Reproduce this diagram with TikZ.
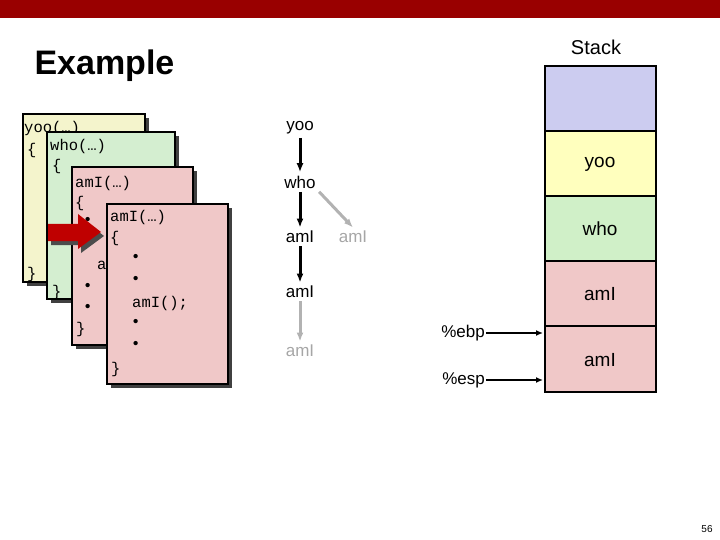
\documentclass[tikz,border=0pt]{standalone}
\usepackage{fontspec}
\setmainfont{Liberation Sans}
\newfontfamily\cmono{Liberation Mono}
\usetikzlibrary{arrows.meta}
\definecolor{bar}{RGB}{153,0,0}
\definecolor{cy}{RGB}{244,244,204}
\definecolor{cg}{RGB}{212,238,208}
\definecolor{cr}{RGB}{240,200,200}
\definecolor{sb}{RGB}{204,204,240}
\definecolor{sy}{RGB}{255,255,190}
\definecolor{sg}{RGB}{208,240,200}
\definecolor{sr}{RGB}{240,200,200}
\begin{document}
\begin{tikzpicture}[x=1pt,y=-1pt,
  code/.style={font=\cmono\fontsize{15.5}{15.5}\selectfont,anchor=west,inner sep=0},
  dot/.style={font=\fontsize{15}{15}\selectfont\bfseries,anchor=west,inner sep=0},
  lab/.style={font=\fontsize{17}{17}\selectfont},
  slab/.style={font=\fontsize{19}{19}\selectfont},
  glab/.style={lab,text=gray!70},
  ar/.style={-{Latex[length=9pt,width=7pt]},line width=3pt},
  gar/.style={ar,draw=gray!60},
  cell/.style={draw=black,line width=2.5pt}]
\useasboundingbox (0,0) rectangle (720,540);
\fill[bar] (0,0) rectangle (720,18);
\node[anchor=west,font=\bfseries\fontsize{34}{34}\selectfont] (title) at (31,66) {Example};
\newcommand\cfr[5]{\fill[black!75] (#1+4,#2+4) rectangle (#3+4,#4+4);
  \filldraw[fill=#5,draw=black,line width=2pt] (#1,#2) rectangle (#3,#4);}
\cfr{23}{114}{145}{282}{cy}
\node[code] (y1) at (24,128) {yoo(…)};
\node[code] (y2) at (27,150) {\{};
\node[code] (y3) at (27,274) {\}};
\cfr{47}{132}{175}{299}{cg}
\node[code] (w1) at (50,146) {who(…)};
\node[code] (w2) at (52,166) {\{};
\node[code] (w3) at (52,292) {\}};
\cfr{72}{167}{193}{345}{cr}
\node[code] (a1) at (75,183) {amI(…)};
\node[code] (a2) at (75,203) {\{};
\node[dot] (a3) at (85,221) {•};
\node[dot] (a4) at (85,242) {•};
\node[code] (a5) at (97,265) {amI();};
\node[dot] (a6) at (85,287) {•};
\node[dot] (a7) at (85,308) {•};
\node[code] (a8) at (76,329) {\}};
\fill[black!70] (51,228) -- (81,228) -- (81,218) -- (104,236) -- (81,253) -- (81,245) -- (51,245) -- cycle;
\fill[red!75!black] (48,224) -- (78,224) -- (78,214) -- (101,232) -- (78,249) -- (78,241) -- (48,241) -- cycle;
\cfr{107}{204}{228}{384}{cr}
\node[code] (b1) at (110,217) {amI(…)};
\node[code] (b2) at (110,238) {\{};
\node[dot] (b3) at (133,258) {•};
\node[dot] (b4) at (133,280) {•};
\node[code] (b5) at (132,303) {amI();};
\node[dot] (b6) at (133,323) {•};
\node[dot] (b7) at (133,345) {•};
\node[code] (b8) at (111,369) {\}};
\node[lab] (t1) at (300,128) {yoo};
\node[lab] (t2) at (300,182) {who};
\node[lab] (t3) at (300,237) {amI};
\node[glab] (t4) at (353,237) {amI};
\node[lab] (t5) at (300,292) {amI};
\node[glab] (t6) at (300,351) {amI};
\draw[ar] (t1) -- (t2);
\draw[ar] (t2) -- (t3);
\draw[ar] (t3) -- (t5);
\draw[gar] (t2.south east) -- (t4.north);
\draw[gar] (t5) -- (t6);
\node[font=\fontsize{20}{20}\selectfont] (stk) at (596,47) {Stack};
\filldraw[cell,fill=sb] (545,66) rectangle (656,131);
\filldraw[cell,fill=sy] (545,131) rectangle (656,196);
\filldraw[cell,fill=sg] (545,196) rectangle (656,261);
\filldraw[cell,fill=sr] (545,261) rectangle (656,326);
\filldraw[cell,fill=sr] (545,326) rectangle (656,392);
\node[slab] (s2) at (600,164) {yoo};
\node[slab] (s3) at (600,229) {who};
\node[slab] (s4) at (600,294) {amI};
\node[slab] (s5) at (600,360) {amI};
\node[lab,anchor=east,inner sep=1pt] (ebp) at (486,333) {\%ebp};
\node[lab,anchor=east,inner sep=1pt] (esp) at (486,380) {\%esp};
\coordinate (ebpt) at (543,333);
\coordinate (espt) at (543,380);
\draw[-{Latex[length=7pt,width=6pt]},line width=2.5pt] (ebp) -- (ebpt);
\draw[-{Latex[length=7pt,width=6pt]},line width=2.5pt] (esp) -- (espt);
\node[font=\fontsize{10}{10}\selectfont] (pg) at (707,529) {56};
\end{tikzpicture}
\end{document}
